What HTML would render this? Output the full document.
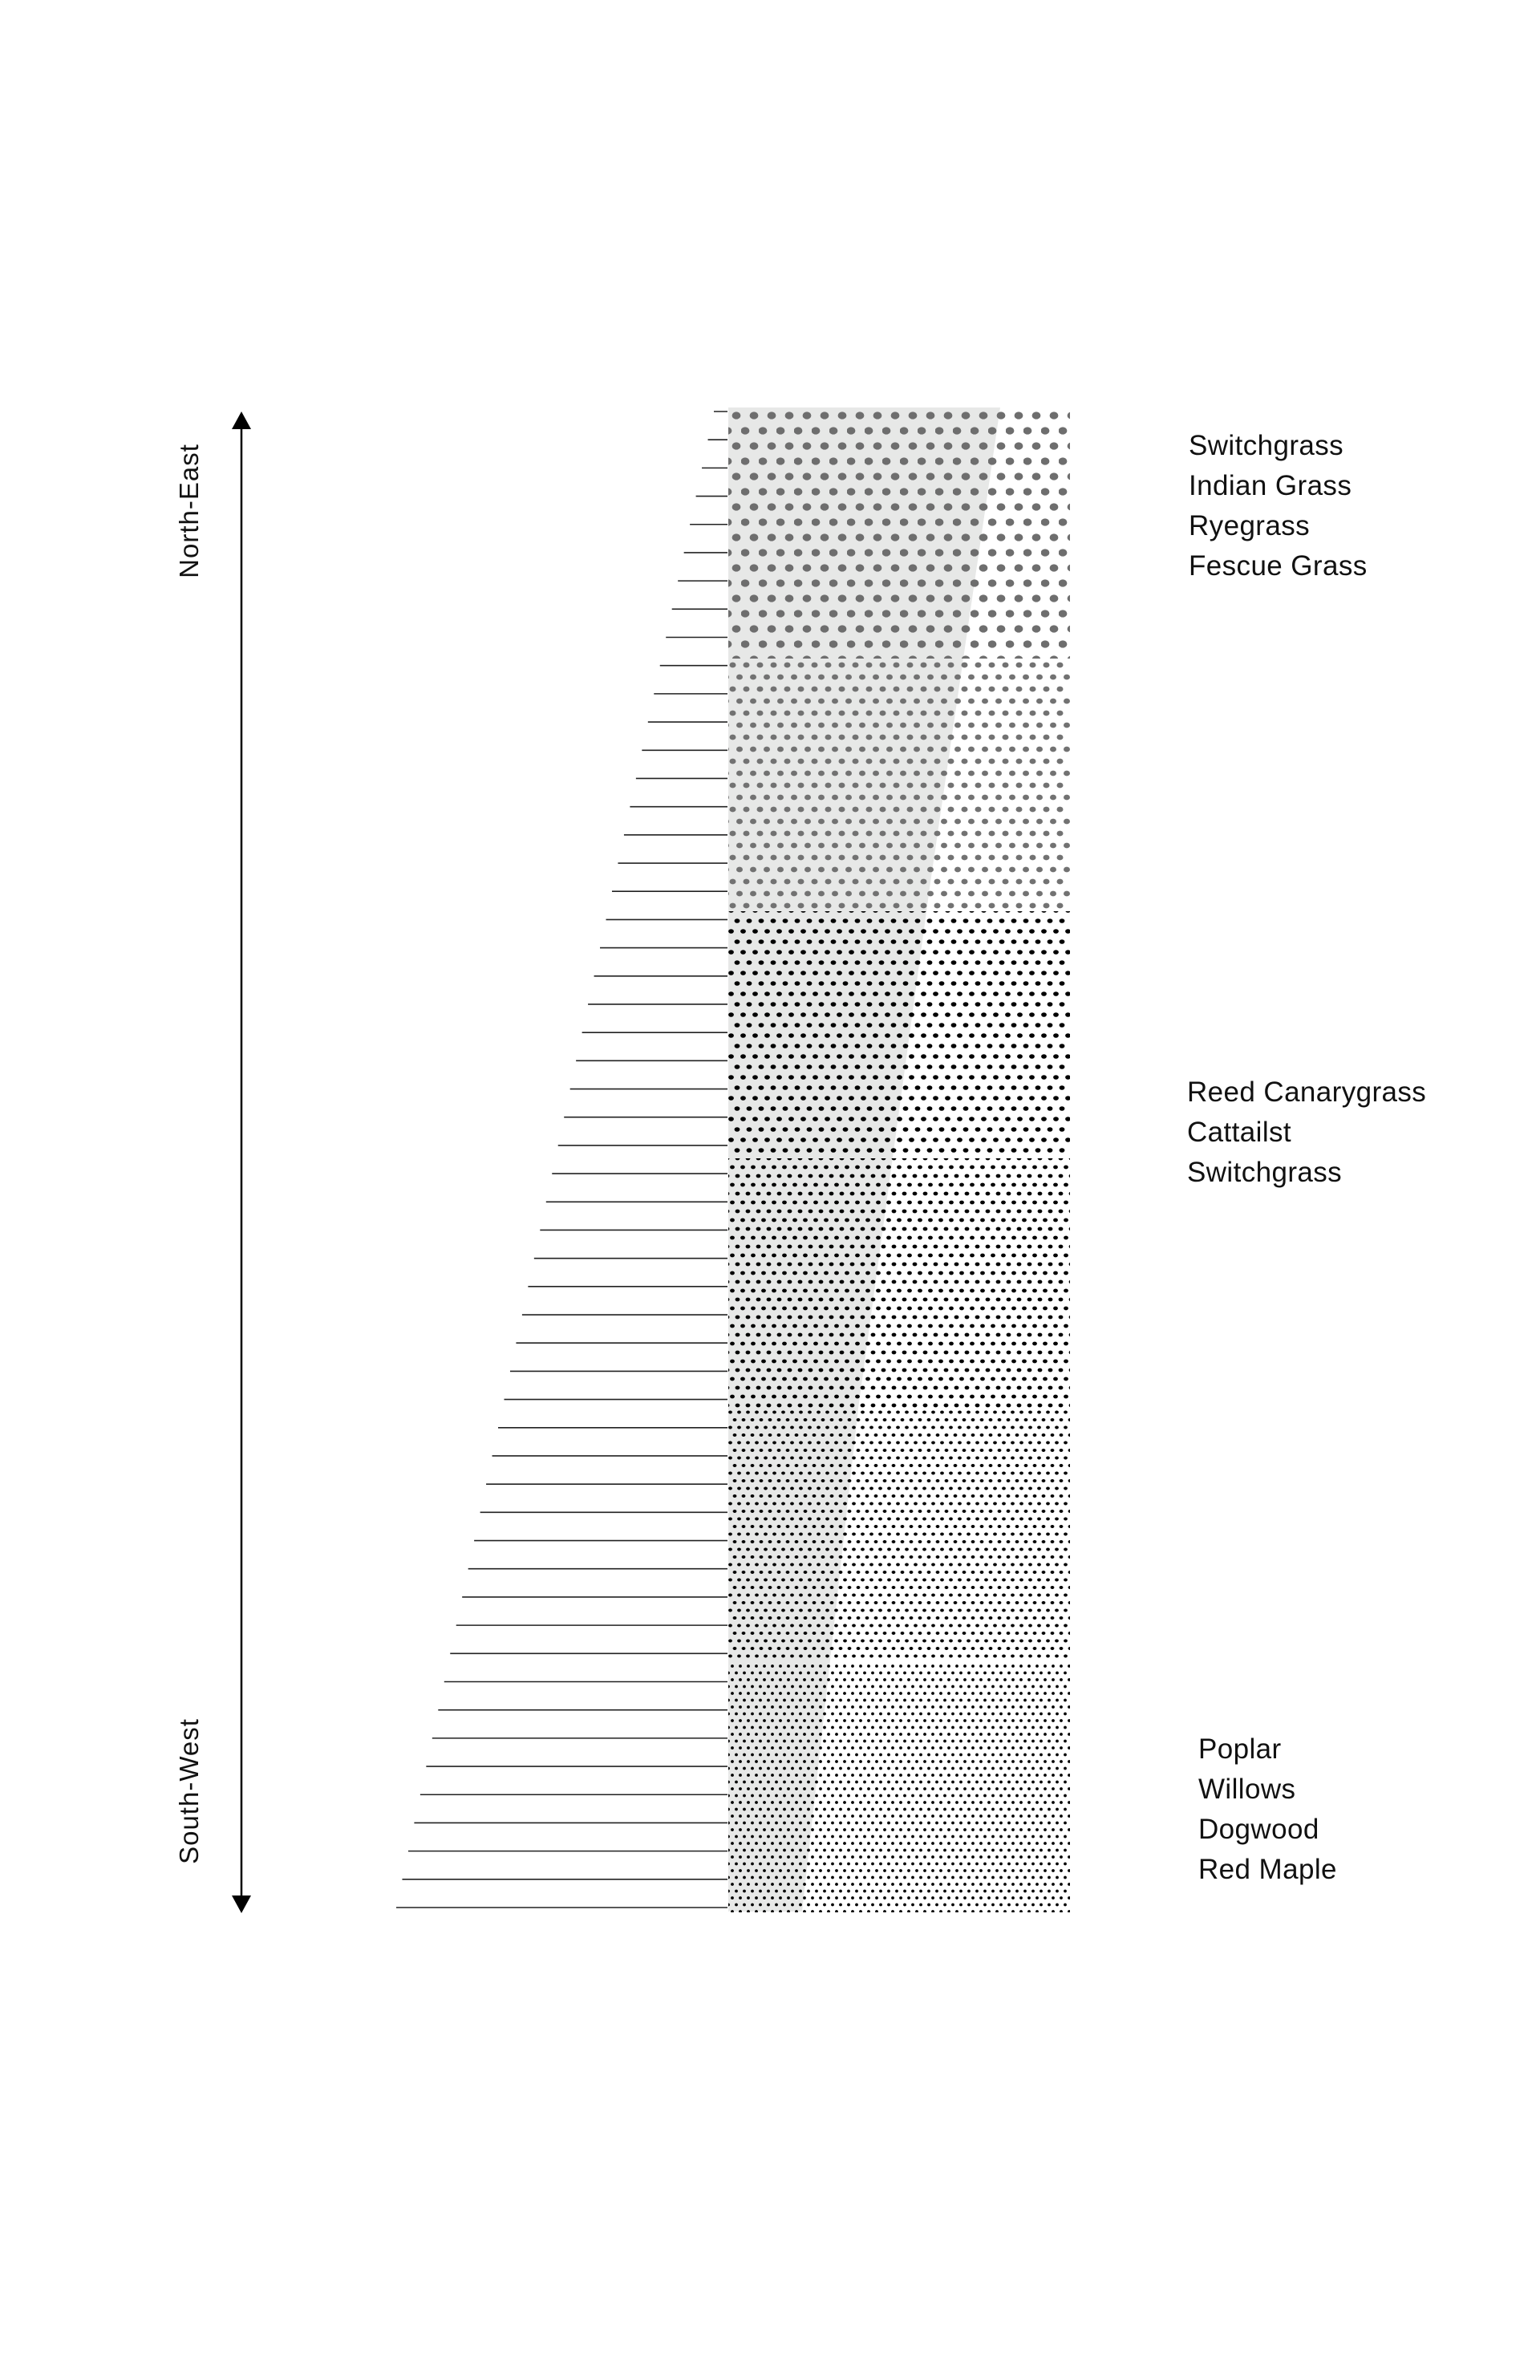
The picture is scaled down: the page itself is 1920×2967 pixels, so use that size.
<!DOCTYPE html>
<html><head><meta charset="utf-8"><style>
html,body{margin:0;padding:0;background:#fff;}
svg{display:block;}
text{font-family:"Liberation Sans","DejaVu Sans",sans-serif;fill:#111;}
</style></head><body>
<svg id="chart" width="1920" height="2967" viewBox="0 0 1920 2967" xmlns="http://www.w3.org/2000/svg">
<defs>
  <pattern id="p1" width="22" height="38" patternUnits="userSpaceOnUse"><ellipse cx="5" cy="5" rx="5.4" ry="4.6" fill="#6e6e6e"/><ellipse cx="16" cy="24" rx="5.4" ry="4.6" fill="#6e6e6e"/></pattern>
  <pattern id="p2" width="17" height="30" patternUnits="userSpaceOnUse"><ellipse cx="4" cy="4" rx="4" ry="3.4" fill="#727272"/><ellipse cx="12.5" cy="19" rx="4" ry="3.4" fill="#727272"/></pattern>
  <pattern id="p3" width="15" height="26" patternUnits="userSpaceOnUse"><ellipse cx="4" cy="4" rx="3.4" ry="2.8" fill="#000"/><ellipse cx="11.5" cy="17" rx="3.4" ry="2.8" fill="#000"/></pattern>
  <pattern id="p4" width="13" height="22" patternUnits="userSpaceOnUse"><ellipse cx="3" cy="3" rx="2.9" ry="2.4" fill="#000"/><ellipse cx="9.5" cy="14" rx="2.9" ry="2.4" fill="#000"/></pattern>
  <pattern id="p5" width="11" height="19" patternUnits="userSpaceOnUse"><ellipse cx="3" cy="3" rx="2.4" ry="2" fill="#000"/><ellipse cx="8.5" cy="12.5" rx="2.4" ry="2" fill="#000"/></pattern>
  <pattern id="p6" width="10" height="17" patternUnits="userSpaceOnUse"><circle cx="3" cy="3" r="1.9" fill="#000"/><circle cx="8" cy="11.5" r="1.9" fill="#000"/></pattern>
</defs>
<polygon points="908,508 1247,508 1160,1100 1070,1756 1000,2383 908,2383" fill="#e7e8e7"/>
<g id="bands"></g>
<g id="ticks"></g>
<g>
  <line x1="301" y1="530" x2="301" y2="2368" stroke="#000" stroke-width="2.5"/>
  <polygon points="301,513 289,535 313,535" fill="#000"/>
  <polygon points="301,2385 289,2363 313,2363" fill="#000"/>
</g>
<text transform="translate(247,637) rotate(-90)" text-anchor="middle" font-size="33" letter-spacing="1">North-East</text>
<text transform="translate(247,2233) rotate(-90)" text-anchor="middle" font-size="33" letter-spacing="1">South-West</text>
<g font-size="35" letter-spacing="0.4">
  <text x="1482" y="567">Switchgrass</text>
  <text x="1482" y="617">Indian Grass</text>
  <text x="1482" y="667">Ryegrass</text>
  <text x="1482" y="717">Fescue Grass</text>
</g>
<g font-size="35" letter-spacing="0.4">
  <text x="1480" y="1373">Reed Canarygrass</text>
  <text x="1480" y="1423">Cattailst</text>
  <text x="1480" y="1473">Switchgrass</text>
</g>
<g font-size="35" letter-spacing="0.4">
  <text x="1494" y="2192">Poplar</text>
  <text x="1494" y="2242">Willows</text>
  <text x="1494" y="2292">Dogwood</text>
  <text x="1494" y="2342">Red Maple</text>
</g>
</svg>
<script>
const bandNames = ['band-1','band-2','band-3','band-4','band-5','band-6'];
const bandBounds = [508, 821, 1136, 1444, 1757, 2071, 2384];
const tickCount = 54;
const tickTopLength = 18;
const tickBottomLength = 414;

const NS = 'http://www.w3.org/2000/svg';
const bandsG = document.getElementById('bands');
bandNames.forEach(function(n, i){
  const r = document.createElementNS(NS, 'rect');
  r.setAttribute('x', 908);
  r.setAttribute('y', bandBounds[i]);
  r.setAttribute('width', 426);
  r.setAttribute('height', bandBounds[i+1] - bandBounds[i]);
  r.setAttribute('fill', 'url(#p' + (i+1) + ')');
  
  
  bandsG.appendChild(r);
});
const ticksG = document.getElementById('ticks');
const y0 = 513, y1 = 2378;
for (let i = 0; i < tickCount; i++) {
  const t = i / (tickCount - 1);
  const y = y0 + t * (y1 - y0);
  const len = tickTopLength + t * (tickBottomLength - tickTopLength);
  const l = document.createElementNS(NS, 'line');
  l.setAttribute('x1', 908 - len);
  l.setAttribute('x2', 907);
  l.setAttribute('y1', y);
  l.setAttribute('y2', y);
  l.setAttribute('stroke', '#222');
  l.setAttribute('stroke-width', '1.6');
  
  
  ticksG.appendChild(l);
}
</script>
</body></html>
